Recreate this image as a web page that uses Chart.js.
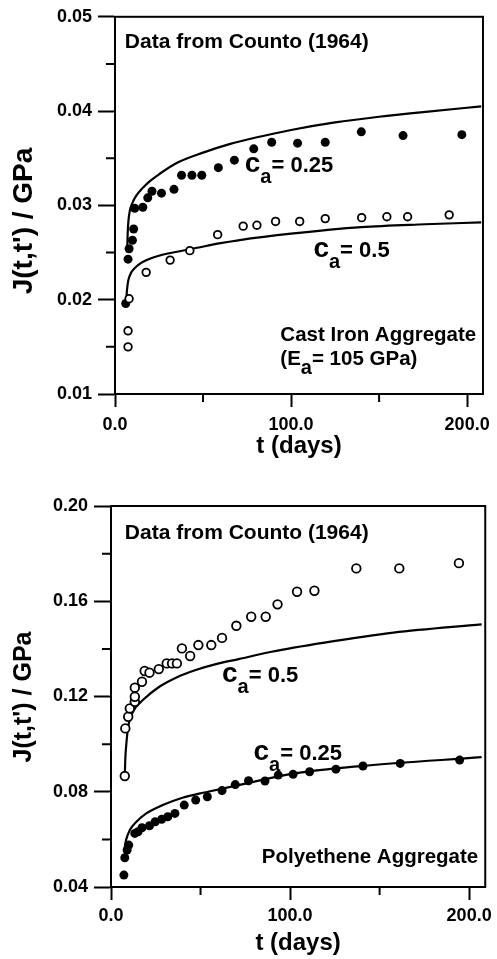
<!DOCTYPE html>
<html>
<head>
<meta charset="utf-8">
<script src="https://cdn.jsdelivr.net/npm/chart.js@4/dist/chart.umd.min.js"></script>
<style>
  html, body { margin: 0; padding: 0; background: #fff; }
  #wrap { position: relative; width: 497px; height: 959px; overflow: hidden; }
  .panel { position: absolute; left: 0; width: 497px; }
  #top { top: 0; height: 480px; }
  #bottom { top: 480px; height: 479px; }
</style>
</head>
<body>
<div id="wrap">
  <div class="panel" id="top"><canvas id="cTop"></canvas></div>
  <div class="panel" id="bottom"><canvas id="cBottom"></canvas></div>
</div>
<script>
// ---- cast iron aggregate (top panel) ----
// measured points, c_a = 0.25 (filled)
const ironDays25 = [6.1, 7.4, 8.0, 9.9, 10.6, 11.2, 15.8, 18.6, 21.0, 26.4, 33.5, 37.8, 43.7, 49.3, 58.7, 67.8, 78.8, 89.0, 103.7, 119.4, 139.9, 163.6, 197.0];
const ironJ25    = [0.0196, 0.0243, 0.0254, 0.0263, 0.0275, 0.0297, 0.0298, 0.0308, 0.0315, 0.0313, 0.0317, 0.0332, 0.0332, 0.0332, 0.0340, 0.0348, 0.0360, 0.0367, 0.0366, 0.0367, 0.0378, 0.0374, 0.0375];
// measured points, c_a = 0.5 (open)
const ironDays50 = [7.4, 7.4, 8.0, 17.7, 31.3, 42.5, 58.3, 72.8, 80.6, 91.2, 104.9, 119.4, 140.1, 154.4, 166.2, 189.8];
const ironJ50    = [0.0150, 0.0167, 0.0201, 0.0229, 0.0242, 0.0252, 0.0269, 0.0278, 0.0279, 0.0283, 0.0283, 0.0286, 0.0287, 0.0288, 0.0288, 0.0290];
// model curves
const ironCurveDays25 = [6.9, 7.2, 7.6, 8.5, 10, 12, 16, 20, 25, 35, 50, 65, 80, 100, 125, 150, 175, 208];
const ironCurveJ25    = [0.0250, 0.0270, 0.0283, 0.0295, 0.0303, 0.0310, 0.0319, 0.0326, 0.0333, 0.0345, 0.0356, 0.0365, 0.0372, 0.0380, 0.0388, 0.0394, 0.0399, 0.0405];
const ironCurveDays50 = [6.3, 6.8, 7.5, 9, 11, 14, 18, 24, 30, 44, 60, 70, 100, 140, 176, 208];
const ironCurveJ50    = [0.0196, 0.0210, 0.0220, 0.0228, 0.0233, 0.0238, 0.0242, 0.0246, 0.0249, 0.0254, 0.0260, 0.0263, 0.0270, 0.0277, 0.0280, 0.0282];
const ironYTicks  = [0.01, 0.02, 0.03, 0.04, 0.05];
const ironYMinor  = [0.015, 0.025, 0.035, 0.045];

// ---- polyethene aggregate (bottom panel) ----
const polyDays25 = [7.2, 7.7, 9.0, 9.9, 13.3, 15.1, 17.3, 21.5, 24.7, 28.3, 31.7, 35.7, 40.9, 47.3, 53.8, 62.0, 69.4, 76.8, 86.0, 93.4, 101.7, 110.9, 125.6, 140.7, 161.5, 194.7];
const polyJ25    = [0.0450, 0.0523, 0.0555, 0.0576, 0.0625, 0.0632, 0.0649, 0.0657, 0.0674, 0.0684, 0.0695, 0.0709, 0.0744, 0.0765, 0.0779, 0.0805, 0.0830, 0.0846, 0.0845, 0.0870, 0.0873, 0.0884, 0.0895, 0.0908, 0.0919, 0.0933];
const polyDays50 = [7.7, 8.0, 9.6, 10.5, 13.3, 13.3, 13.3, 17.3, 18.8, 21.5, 26.7, 31.1, 34.1, 36.8, 39.6, 44.2, 48.8, 56.0, 62.0, 70.0, 78.3, 86.4, 93.0, 103.9, 113.6, 137.0, 161.0, 194.3];
const polyJ50    = [0.0866, 0.1066, 0.1115, 0.1150, 0.1178, 0.1199, 0.1237, 0.1262, 0.1307, 0.1300, 0.1315, 0.1339, 0.1339, 0.1339, 0.1402, 0.1370, 0.1416, 0.1416, 0.1446, 0.1497, 0.1535, 0.1535, 0.1587, 0.1640, 0.1644, 0.1738, 0.1738, 0.1760];
const polyCurveDays25 = [7.5, 8.5, 10.5, 14.2, 19.7, 28.9, 39.9, 52.9, 71.3, 102.6, 139.4, 207];
const polyCurveJ25    = [0.0560, 0.0600, 0.0639, 0.0674, 0.0709, 0.0744, 0.0775, 0.0798, 0.0828, 0.0877, 0.0908, 0.0945];
const polyCurveDays50 = [7.7, 8.0, 8.5, 9.6, 12.3, 17.8, 27, 36.3, 47.3, 60.2, 71.3, 89.7, 119.2, 157.8, 207];
const polyCurveJ50    = [0.0866, 0.0940, 0.0995, 0.1073, 0.1136, 0.1185, 0.1241, 0.1279, 0.1311, 0.1339, 0.1357, 0.1388, 0.1426, 0.1468, 0.1503];
const polyYTicks = [0.04, 0.08, 0.12, 0.16, 0.20];
const polyYMinor = [0.06, 0.10, 0.14, 0.18];

const xTicks = [0, 100, 200];
const xMinor = [50, 150];

const FONT = '"Liberation Sans", Arial, sans-serif';
const Y_TITLE = "J(t,t') / GPa";

const pts = (xs, ys) => xs.map((x, i) => ({ x: x, y: ys[i] }));

// frame, minor ticks, y title and the in-plot text
function extrasPlugin(yMinor, labels, yTitle) {
  return {
    id: 'extras',
    afterDraw(chart) {
      const { ctx, chartArea: a, scales } = chart;
      const x = scales.x, y = scales.y;
      ctx.save();
      ctx.strokeStyle = '#000';
      ctx.fillStyle = '#000';
      ctx.lineWidth = 2;
      ctx.strokeRect(a.left, a.top, a.right - a.left, a.bottom - a.top);
      ctx.beginPath();
      xMinor.forEach(v => {
        const px = x.getPixelForValue(v);
        ctx.moveTo(px, a.bottom); ctx.lineTo(px, a.bottom + 8);
      });
      yMinor.forEach(v => {
        const py = y.getPixelForValue(v);
        ctx.moveTo(a.left, py); ctx.lineTo(a.left - 9, py);
      });
      ctx.stroke();

      // rotated y title
      ctx.save();
      ctx.translate(yTitle.cx, yTitle.cy);
      ctx.rotate(-Math.PI / 2);
      ctx.font = 'bold ' + yTitle.size + 'px ' + FONT;
      ctx.textAlign = 'center';
      ctx.textBaseline = 'middle';
      ctx.fillText(Y_TITLE, 0, 0);
      ctx.restore();

      ctx.textBaseline = 'alphabetic';
      labels.forEach(l => {
        let px = x.getPixelForValue(l.x);
        const py = y.getPixelForValue(l.y);
        l.parts.forEach(p => {
          ctx.font = 'bold ' + p[1] + 'px ' + FONT;
          ctx.fillText(p[0], px, py + (p[2] || 0));
          px += ctx.measureText(p[0]).width;
        });
      });
      ctx.restore();
    }
  };
}

function makeChart(id, o) {
  const tickFont = { family: FONT, size: 18, weight: 'bold' };
  const titleFont = { family: FONT, size: 24, weight: 'bold' };
  return new Chart(document.getElementById(id), {
    type: 'scatter',
    data: {
      datasets: [
        { data: pts(o.d25, o.j25), pointRadius: 4.5, pointBackgroundColor: '#000', pointBorderColor: '#000', pointBorderWidth: 0, showLine: false, order: 1 },
        { data: pts(o.d50, o.j50), pointRadius: o.openR, pointBackgroundColor: '#fff', pointBorderColor: '#000', pointBorderWidth: 1.8, showLine: false, order: 0 },
        { data: pts(o.cd25, o.cj25), showLine: true, pointRadius: 0, borderColor: '#000', borderWidth: 2.2, cubicInterpolationMode: 'monotone', order: 2 },
        { data: pts(o.cd50, o.cj50), showLine: true, pointRadius: 0, borderColor: '#000', borderWidth: 2.2, cubicInterpolationMode: 'monotone', order: 2 }
      ]
    },
    options: {
      responsive: true,
      maintainAspectRatio: false,
      animation: false,
      layout: { padding: { top: o.padTop, right: 8, left: 0, bottom: 0 } },
      plugins: { legend: { display: false }, tooltip: { enabled: false } },
      scales: {
        x: {
          type: 'linear', min: 0, max: 209,
          afterBuildTicks: ax => { ax.ticks = xTicks.map(v => ({ value: v })); },
          afterFit: s => { s.height = o.xHeight; },
          ticks: { color: '#000', font: tickFont, padding: o.xTickPad, maxRotation: 0, autoSkip: false, callback: v => v.toFixed(1) },
          grid: { display: true, drawOnChartArea: false, drawTicks: true, tickLength: 13, tickWidth: 2, tickColor: '#000' },
          border: { display: true, color: '#000', width: 2 },
          title: { display: true, text: 't (days)', color: '#000', font: titleFont, padding: { top: 0, bottom: o.xTitlePad } }
        },
        y: {
          type: 'linear', min: o.yTicks[0], max: o.yTicks[o.yTicks.length - 1],
          afterBuildTicks: ax => { ax.ticks = o.yTicks.map(v => ({ value: v })); },
          afterFit: s => { s.width = o.yWidth; },
          ticks: { color: '#000', font: tickFont, padding: 6, callback: v => v.toFixed(2) },
          grid: { display: true, drawOnChartArea: false, drawTicks: true, tickLength: 17, tickWidth: 2, tickColor: '#000' },
          border: { display: true, color: '#000', width: 2 },
          title: { display: false }
        }
      }
    },
    plugins: [extrasPlugin(o.yMinor, o.labels, o.yTitle)]
  });
}

makeChart('cTop', {
  d25: ironDays25, j25: ironJ25, d50: ironDays50, j50: ironJ50,
  cd25: ironCurveDays25, cj25: ironCurveJ25, cd50: ironCurveDays50, cj50: ironCurveJ50,
  yTicks: ironYTicks, yMinor: ironYMinor, openR: 3.8,
  padTop: 15, xHeight: 86, yWidth: 115, xTickPad: 7, xTitlePad: 19,
  yTitle: { cx: 24, cy: 221, size: 28 },
  labels: [
    { x: 5.6, y: 0.04666, parts: [['Data from Counto (1964)', 21]] },
    { x: 73.7, y: 0.03357, parts: [['c', 28], ['a', 20, 11], ['= 0.25', 22]] },
    { x: 112.7, y: 0.0245, parts: [['c', 28], ['a', 20, 11], ['= 0.5', 22]] },
    { x: 93.9, y: 0.01561, parts: [['Cast Iron Aggregate', 20.5]] },
    { x: 93.9, y: 0.01308, parts: [['(E', 20.5], ['a', 20, 9], ['= 105 GPa)', 20.5]] }
  ]
});

makeChart('cBottom', {
  d25: polyDays25, j25: polyJ25, d50: polyDays50, j50: polyJ50,
  cd25: polyCurveDays25, cj25: polyCurveJ25, cd50: polyCurveDays50, cj50: polyCurveJ50,
  yTicks: polyYTicks, yMinor: polyYMinor, openR: 4.3,
  padTop: 26, xHeight: 72, yWidth: 111, xTickPad: 5, xTitlePad: 1,
  yTitle: { cx: 24, cy: 217, size: 25 },
  labels: [
    { x: 7.7, y: 0.1860, parts: [['Data from Counto (1964)', 21]] },
    { x: 62.0, y: 0.1262, parts: [['c', 28], ['a', 20, 11], ['= 0.5', 22]] },
    { x: 79.6, y: 0.0933, parts: [['c', 28], ['a', 20, 11], ['= 0.25', 22]] },
    { x: 84.2, y: 0.0500, parts: [['Polyethene Aggregate', 20.5]] }
  ]
});
</script>
</body>
</html>
